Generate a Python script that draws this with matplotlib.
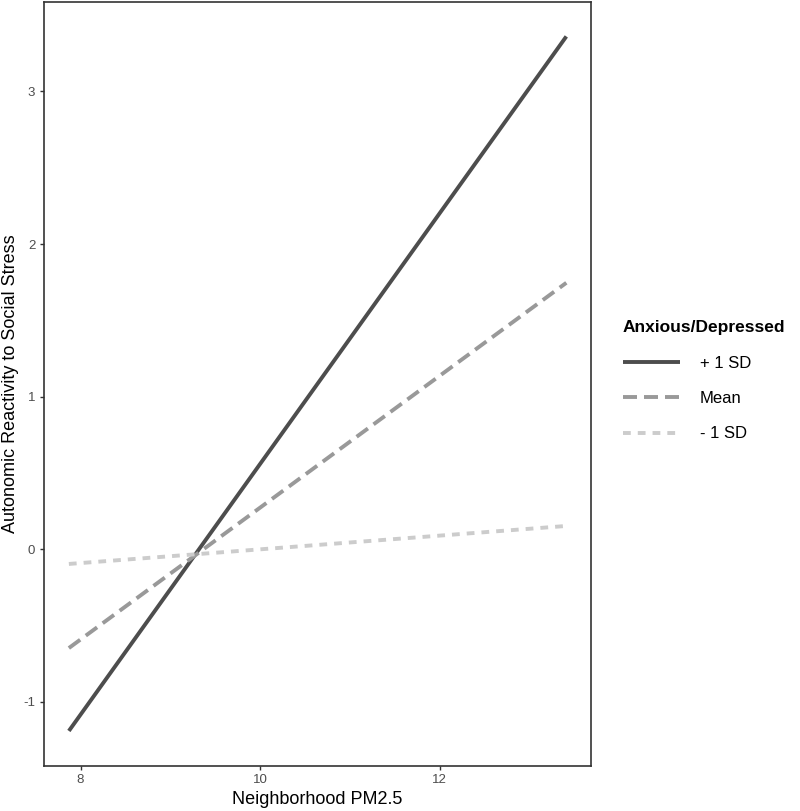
import matplotlib.pyplot as plt

# simple slopes at +1 SD / mean / -1 SD of anxious/depressed
pm25 = [7.87, 13.41]
plus_sd = [-1.19, 3.36]
mean_sd = [-0.647, 1.746]
minus_sd = [-0.096, 0.153]

group_labels = ['+ 1 SD', 'Mean', '- 1 SD']
x_ticks = [8, 10, 12]
y_ticks = [-1, 0, 1, 2, 3]

plt.rcParams['font.family'] = ['Liberation Sans', 'DejaVu Sans']
plt.rcParams['axes.unicode_minus'] = False

fig = plt.figure(figsize=(8, 8.11), dpi=100)
ax = fig.add_axes([0.055, 0.0559, 0.684, 0.942])

l1, = ax.plot(pm25, plus_sd, color='#4d4d4d', lw=2.8, solid_capstyle='butt')
l2, = ax.plot(pm25, mean_sd, color='#999999', lw=2.8, dashes=(3.6, 1.8), dash_capstyle='butt')
l3, = ax.plot(pm25, minus_sd, color='#cccccc', lw=2.8, dashes=(2.0, 1.8), dash_capstyle='butt')

ax.set_xlim(7.593, 13.687)
ax.set_ylim(-1.4175, 3.5875)
ax.set_xticks(x_ticks)
ax.set_yticks(y_ticks)
ax.tick_params(colors='#333333', labelcolor='#4d4d4d', labelsize=9.5, length=3, width=1, pad=3.3)
for s in ax.spines.values():
    s.set_color('#333333')
    s.set_linewidth(1.2)

ax.set_xlabel('Neighborhood PM2.5', fontsize=13, labelpad=3)
ax.set_ylabel('Autonomic Reactivity to Social Stress', fontsize=13)
ax.yaxis.set_label_coords(-0.046, 0.5)

leg = fig.legend([l1, l2, l3], group_labels, title='Anxious/Depressed',
                 loc='upper left', bbox_to_anchor=(0.76, 0.624), frameon=False,
                 fontsize=12, handlelength=3.4, handletextpad=1.2, labelspacing=1.22)
leg.get_title().set_fontweight('bold')
leg.get_title().set_fontsize(12.5)
leg._legend_box.align = 'left'
leg._legend_box.sep = 15

fig.savefig('out.png', dpi=100)
